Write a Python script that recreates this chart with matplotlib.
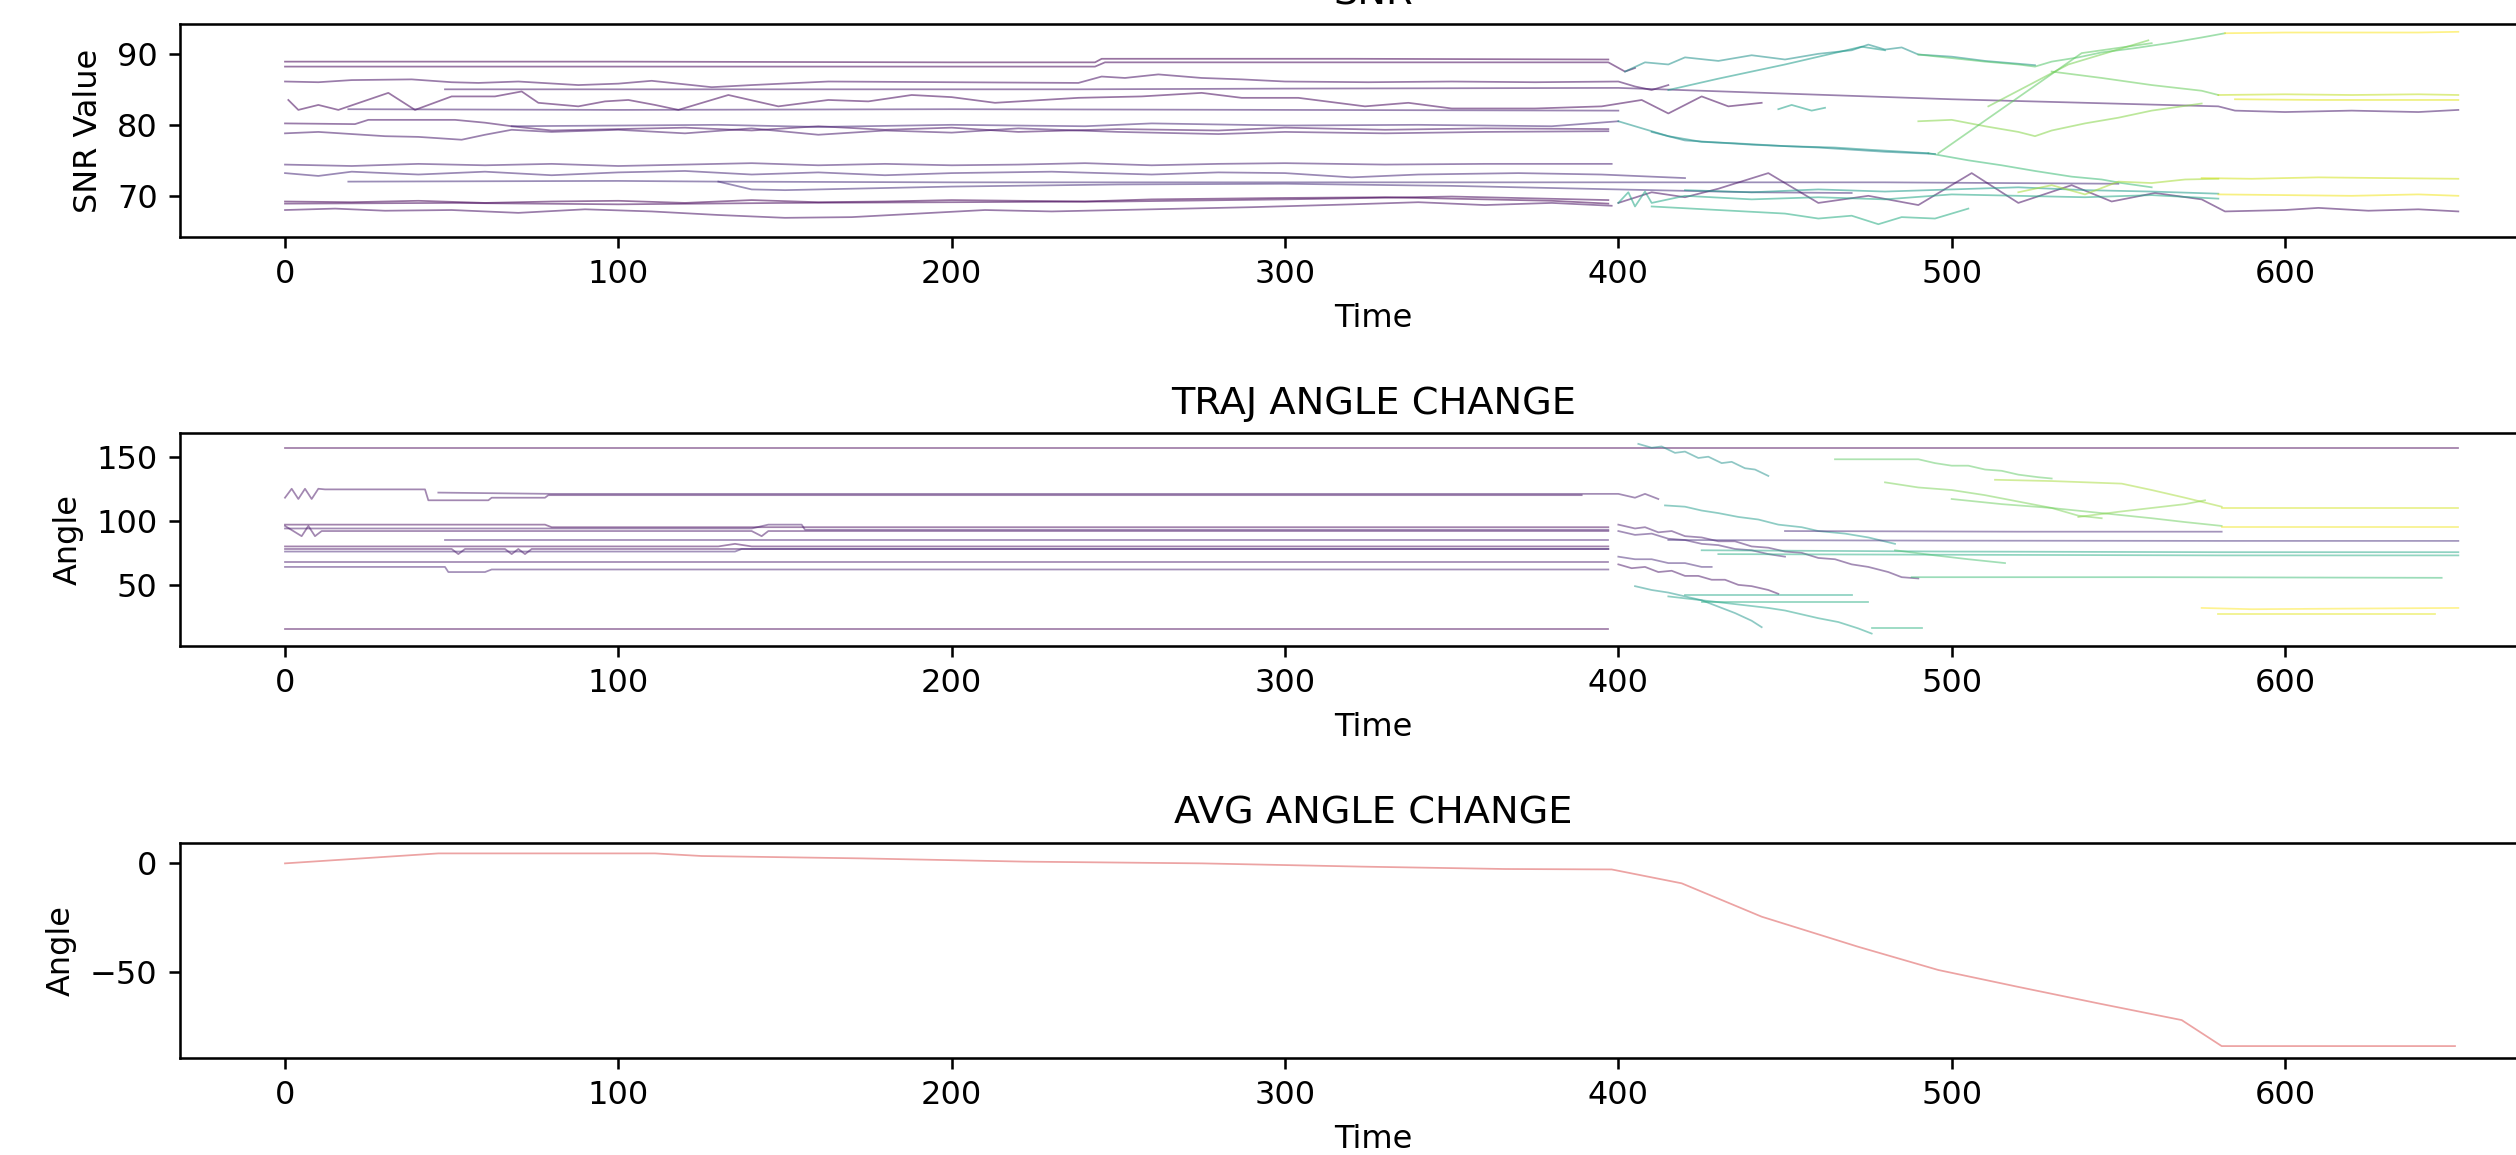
import matplotlib
matplotlib.use("Agg")
import matplotlib.pyplot as plt

# ---------------- data ----------------
# SNR trajectories: (id, times, values)
snr_ids = [0, 1, 2, 3, 1, 4, 2, 3, 5, 4, 5, 6, 6, 0, 1, 2, 2,
           22, 23, 30, 21, 24, 32, 44, 34, 40, 42, 36, 33, 35, 25,
           26, 27, 24, 38, 41, 43]
snr_t = [
    [0, 100, 200, 243, 245, 320, 397],
    [0, 120, 243, 246, 397, 402, 405],
    [0, 10, 20, 38, 50, 58, 70, 88, 100, 110, 128, 140, 163, 200, 238, 245, 252, 262, 275, 287, 300, 325, 350, 375, 400, 405, 410, 415],
    [48, 100, 150, 238, 300, 400, 450, 500, 580, 585, 600, 620, 640, 652],
    [1, 4, 10, 16, 31, 39, 50, 63, 71, 76, 88, 96, 103, 111, 118, 133, 148, 163, 175, 188, 200, 213, 238, 257, 275, 287, 304, 324, 337, 350, 375, 395, 407, 415, 425, 433, 443],
    [19, 100, 200, 300, 400],
    [0, 21, 25, 51, 60, 68, 80, 100, 120, 140, 160, 180, 200, 220, 250, 280, 300, 330, 360, 397],
    [0, 10, 20, 30, 40, 53, 60, 68, 80, 100, 120, 140, 160, 180, 200, 220, 250, 280, 300, 330, 360, 397],
    [68, 100, 130, 160, 200, 240, 260, 300, 340, 380, 400],
    [0, 20, 40, 60, 80, 100, 120, 140, 160, 180, 200, 220, 240, 260, 280, 300, 330, 360, 398],
    [0, 10, 20, 40, 60, 80, 100, 120, 140, 160, 180, 200, 230, 260, 280, 300, 320, 340, 370, 395, 405, 420],
    [19, 100, 130, 200, 300, 400, 480, 550],
    [130, 140, 150, 170, 200, 250, 300, 350, 400, 440, 470],
    [0, 20, 40, 60, 80, 100, 120, 140, 160, 180, 200, 240, 260, 300, 330, 360, 380, 397],
    [0, 50, 100, 150, 200, 250, 300, 350, 397],
    [0, 15, 30, 50, 70, 90, 110, 130, 150, 170, 190, 210, 230, 260, 290, 320, 340, 360, 380, 398],
    [400, 410, 420, 430, 445, 460, 475, 490, 506, 520, 536, 548, 561, 575, 582, 600, 610, 625, 640, 652],
    [402, 408, 415, 420, 430, 440, 450, 460, 470, 475, 480, 485, 490, 500, 510, 520, 525],
    [400, 405, 415, 425, 435, 450, 465, 475, 493],
    [493, 505, 515, 525, 536, 545, 551, 560],
    [410, 420, 440, 460, 480, 495],
    [415, 430, 450, 473, 480],
    [490, 500, 510, 520, 525, 530, 538, 545, 555, 565, 575, 582],
    [582, 600, 620, 640, 652],
    [530, 545, 560, 575, 580],
    [580, 600, 620, 640, 652],
    [585, 610, 630, 652],
    [490, 500, 510, 520, 525, 530, 540, 550, 560, 575],
    [496, 539, 545, 560],
    [511, 535, 559],
    [448, 452, 458, 462],
    [400, 403, 405, 408, 410, 420, 440, 460, 480, 500, 520, 540, 560, 580],
    [410, 430, 450, 460, 470, 478, 485, 495, 505],
    [420, 440, 460, 480, 500, 520, 540, 560, 580],
    [520, 530, 540, 550, 560, 570, 580],
    [575, 590, 610, 630, 652],
    [580, 600, 620, 640, 652],
]
snr_v = [
    [88.9, 88.9, 88.8, 88.8, 89.3, 89.3, 89.2],
    [88.2, 88.2, 88.2, 88.8, 88.8, 87.5, 88.0],
    [86.1, 86.0, 86.3, 86.4, 86.0, 85.9, 86.1, 85.6, 85.8, 86.2, 85.3, 85.6, 86.1, 86.0, 85.9, 86.8, 86.6, 87.1, 86.6, 86.4, 86.1, 86.0, 86.1, 86.0, 86.1, 85.4, 84.9, 85.6],
    [85.0, 85.0, 85.0, 85.0, 85.1, 85.2, 84.4, 83.6, 82.6, 82.0, 81.8, 82.0, 81.8, 82.1],
    [83.5, 82.1, 82.8, 82.1, 84.5, 82.1, 84.0, 84.0, 84.7, 83.1, 82.6, 83.3, 83.5, 82.8, 82.1, 84.2, 82.6, 83.5, 83.3, 84.2, 83.9, 83.1, 83.8, 84.0, 84.5, 83.8, 83.8, 82.6, 83.1, 82.3, 82.3, 82.6, 83.5, 81.6, 84.0, 82.6, 83.1],
    [82.2, 82.1, 82.2, 82.1, 82.0],
    [80.2, 80.1, 80.7, 80.7, 80.3, 79.8, 79.2, 79.4, 79.6, 79.2, 79.8, 79.3, 79.6, 79.0, 79.4, 79.2, 79.6, 79.3, 79.5, 79.4],
    [78.8, 79.0, 78.7, 78.4, 78.3, 77.9, 78.6, 79.3, 79.0, 79.3, 78.8, 79.5, 78.6, 79.2, 78.9, 79.5, 79.0, 78.7, 79.0, 78.8, 79.0, 79.1],
    [79.8, 79.9, 80.0, 79.7, 80.0, 79.8, 80.2, 79.9, 80.0, 79.8, 80.5],
    [74.4, 74.2, 74.5, 74.3, 74.5, 74.2, 74.4, 74.6, 74.3, 74.5, 74.3, 74.4, 74.6, 74.3, 74.5, 74.6, 74.4, 74.5, 74.5],
    [73.2, 72.8, 73.4, 73.0, 73.4, 72.9, 73.3, 73.5, 73.0, 73.3, 72.9, 73.2, 73.4, 73.0, 73.3, 73.2, 72.6, 73.0, 73.2, 73.0, 72.8, 72.5],
    [72.0, 72.1, 72.0, 71.9, 71.9, 71.9, 71.9, 71.7],
    [72.0, 70.9, 70.8, 71.0, 71.3, 71.6, 71.7, 71.4, 70.9, 70.5, 70.4],
    [69.2, 69.1, 69.3, 69.0, 69.2, 69.3, 69.0, 69.4, 69.1, 69.2, 69.4, 69.2, 69.5, 69.7, 69.8, 69.5, 69.3, 68.9],
    [68.9, 69.0, 68.8, 69.0, 69.1, 69.2, 69.5, 69.9, 69.4],
    [68.0, 68.2, 67.9, 68.0, 67.6, 68.1, 67.8, 67.3, 66.9, 67.0, 67.5, 68.0, 67.8, 68.1, 68.4, 68.8, 69.1, 68.7, 69.0, 68.6],
    [69.0, 70.5, 69.8, 71.0, 73.2, 69.0, 70.0, 68.7, 73.2, 69.0, 71.5, 69.2, 70.4, 69.5, 67.8, 68.0, 68.3, 67.9, 68.1, 67.8],
    [87.5, 88.8, 88.5, 89.5, 89.0, 89.8, 89.2, 90.0, 90.5, 91.3, 90.6, 90.9, 89.9, 89.6, 89.0, 88.6, 88.4],
    [80.5, 79.8, 78.4, 77.6, 77.4, 77.0, 76.8, 76.5, 76.0],
    [76.0, 75.0, 74.3, 73.5, 72.7, 72.3, 71.8, 71.2],
    [79.0, 77.8, 77.2, 76.8, 76.2, 75.9],
    [84.9, 86.5, 88.5, 91.0, 90.5],
    [89.9, 89.4, 88.9, 88.5, 88.2, 88.9, 89.5, 90.2, 90.8, 91.5, 92.3, 92.9],
    [92.9, 93.0, 93.0, 93.0, 93.1],
    [87.5, 86.6, 85.6, 84.8, 84.2],
    [84.2, 84.3, 84.2, 84.3, 84.2],
    [83.6, 83.5, 83.5, 83.5],
    [80.5, 80.7, 79.8, 79.0, 78.4, 79.2, 80.2, 81.0, 82.0, 83.0],
    [76.0, 90.1, 90.5, 91.5],
    [82.6, 88.5, 91.9],
    [82.2, 82.8, 82.0, 82.4],
    [69.0, 70.5, 68.5, 70.6, 69.0, 70.0, 69.5, 69.8, 69.5, 70.2, 70.0, 69.8, 70.1, 69.6],
    [68.5, 68.0, 67.5, 66.8, 67.2, 66.0, 67.0, 66.8, 68.2],
    [70.8, 70.5, 70.9, 70.6, 70.9, 71.2, 70.8, 70.6, 70.3],
    [70.5, 71.5, 70.2, 72.0, 71.8, 72.3, 72.4],
    [72.5, 72.4, 72.6, 72.5, 72.4],
    [70.2, 70.1, 70.0, 70.2, 70.0],
]

# Trajectory angle trajectories
ang_ids = [0, 0, 2, 3, 1, 2, 3, 4, 1, 2, 5, 3, 4,
           22, 24, 3, 4, 2, 5, 23, 25, 26, 27, 28,
           6, 5, 26, 27, 30,
           33, 38, 35, 34, 36, 41, 43, 31, 44, 42]
ang_t = [
    [0, 200, 400, 500, 652],
    [0, 200, 397],
    [0, 2, 4, 6, 8, 10, 12, 42, 43, 61, 62, 78, 79, 200, 304, 389],
    [46, 80, 200, 397, 400, 405, 408, 412],
    [0, 78, 80, 200, 397],
    [0, 5, 7, 9, 11, 140, 143, 145, 397],
    [0, 140, 145, 155, 156, 397],
    [48, 200, 397],
    [0, 130, 135, 140, 397],
    [0, 50, 52, 54, 66, 68, 70, 72, 74, 397],
    [0, 135, 137, 397],
    [0, 397],
    [0, 48, 49, 60, 62, 397],
    [406, 410, 413, 417, 420, 424, 427, 431, 434, 438, 441, 445],
    [414, 420, 425, 430, 436, 442, 448, 455, 460, 468, 475, 483],
    [400, 405, 408, 412, 416, 420, 425, 430, 435, 440, 445, 450, 455, 460, 465, 470, 475, 481, 485, 490],
    [400, 405, 410, 415, 420, 425, 430, 435, 440, 445, 450],
    [400, 404, 408, 412, 416, 420, 424, 428, 432, 436, 440, 445, 448],
    [400, 405, 410, 415, 420, 425, 428],
    [405, 410, 415, 420, 425, 430, 435, 440, 443],
    [415, 425, 435, 445, 450, 455, 460, 466, 472, 476],
    [420, 470],
    [425, 475],
    [476, 491],
    [415, 500, 580, 652],
    [450, 520, 581],
    [425, 500, 580, 652],
    [430, 500, 580, 652],
    [488, 560, 647],
    [465, 490, 495, 500, 505, 510, 515, 520, 526, 530],
    [513, 530, 551, 560, 570, 581],
    [480, 490, 500, 510, 520, 530, 538, 545],
    [500, 515, 530, 545, 560, 570, 581],
    [538, 550, 560, 570, 576],
    [581, 600, 620, 652],
    [581, 620, 652],
    [483, 495, 505, 516],
    [575, 590, 620, 652],
    [580, 620, 645],
]
ang_v = [
    [157, 157, 157, 157, 157],
    [15.5, 15.5, 15.5],
    [118, 125, 117, 125, 117, 125, 124.5, 124.5, 116, 116, 118, 118, 120, 120, 120, 120],
    [122, 121, 121, 121, 121, 118, 121, 117],
    [97, 97, 95, 95, 95],
    [96, 88, 96, 88, 92, 92, 88, 92, 92],
    [94, 94, 97, 97, 93, 93],
    [85, 85, 85],
    [80, 80, 82, 80, 80],
    [78, 78, 74, 78, 78, 74, 78, 74, 78, 78],
    [76, 76, 78, 78],
    [68, 68],
    [64, 64, 60, 60, 62, 62],
    [160, 157, 158, 153, 154, 149, 150, 145, 146, 141, 140, 135],
    [112, 111, 108, 106, 103, 101, 97, 95, 92, 90, 87, 82],
    [97, 94, 95, 91, 92, 88, 87, 84, 84, 80, 79, 76, 75, 71, 70, 66, 64, 60, 56, 55],
    [92, 89, 90, 86, 85, 82, 81, 78, 77, 74, 72],
    [66, 63, 64, 60, 61, 57, 57, 54, 54, 50, 49, 46, 43],
    [72, 70, 70, 67, 67, 64, 64],
    [49, 46, 44, 41, 38, 33, 28, 22, 17],
    [41, 38, 35, 32, 30, 27, 24, 21, 16, 12],
    [42, 42],
    [37, 37],
    [16, 16],
    [85, 84.5, 84.3, 84.3],
    [92, 91.5, 91.5],
    [77, 76, 75.5, 75.5],
    [74, 73.5, 73, 73],
    [56, 56, 55.5],
    [148, 148, 145, 143, 143, 140, 139, 136, 134, 133],
    [132, 131, 129, 124, 118, 111],
    [130, 126, 124, 120, 115, 110, 104, 102],
    [117, 113, 110, 106, 102, 99, 96],
    [103, 107, 110, 113, 116],
    [110, 110, 110, 110],
    [95, 95, 95],
    [77, 73, 70, 67],
    [32, 31, 31.5, 32],
    [27, 27, 27],
]

# Average angle change
avg_t = [0, 46, 111, 125, 173, 222, 275, 323, 366, 398, 419, 443, 472, 496, 520, 544, 569, 581, 651]
avg_v = [0, 4.6, 4.6, 3.4, 2.3, 0.8, 0.0, -1.5, -2.6, -2.8, -9.2, -24.6, -38.5, -49.2, -57.0, -64.6, -72.3, -84.3, -84.3]

max_id = 44

# ---------------- figure ----------------
W, H, DPI = 2516, 1155, 230
fig = plt.figure(figsize=(W / DPI, H / DPI), dpi=DPI)

def frac(top_px, bot_px):
    return [180 / W, 1 - bot_px / H, (2567 - 180) / W, (bot_px - top_px) / H]

ax1 = fig.add_axes(frac(24, 237))
ax2 = fig.add_axes(frac(433, 646))
ax3 = fig.add_axes(frac(843, 1058))

cmap = matplotlib.colormaps["viridis"]
for i, t, v in zip(snr_ids, snr_t, snr_v):
    ax1.plot(t, v, color=cmap(i / max_id), lw=0.55, alpha=0.55)
for i, t, v in zip(ang_ids, ang_t, ang_v):
    ax2.plot(t, v, color=cmap(i / max_id), lw=0.55, alpha=0.5)
ax3.plot(avg_t, avg_v, color="#e06666", lw=0.55, alpha=0.6)

ax1.set_title("SNR")
ax1.set_ylabel("SNR Value")
ax1.set_xlabel("Time")
ax1.set_ylim(64.2, 94.2)
ax1.set_yticks([70, 80, 90])

ax2.set_title("TRAJ ANGLE CHANGE")
ax2.set_ylabel("Angle")
ax2.set_xlabel("Time")
ax2.set_ylim(2.3, 168.5)
ax2.set_yticks([50, 100, 150])

ax3.set_title("AVG ANGLE CHANGE")
ax3.set_ylabel("Angle")
ax3.set_xlabel("Time")
ax3.set_ylim(-89.8, 9.4)
ax3.set_yticks([-50, 0])

for ax in (ax1, ax2, ax3):
    ax.set_xlim(-31.5, 684.6)
    ax.set_xticks([0, 100, 200, 300, 400, 500, 600])

fig.savefig("out.png", dpi=DPI)
